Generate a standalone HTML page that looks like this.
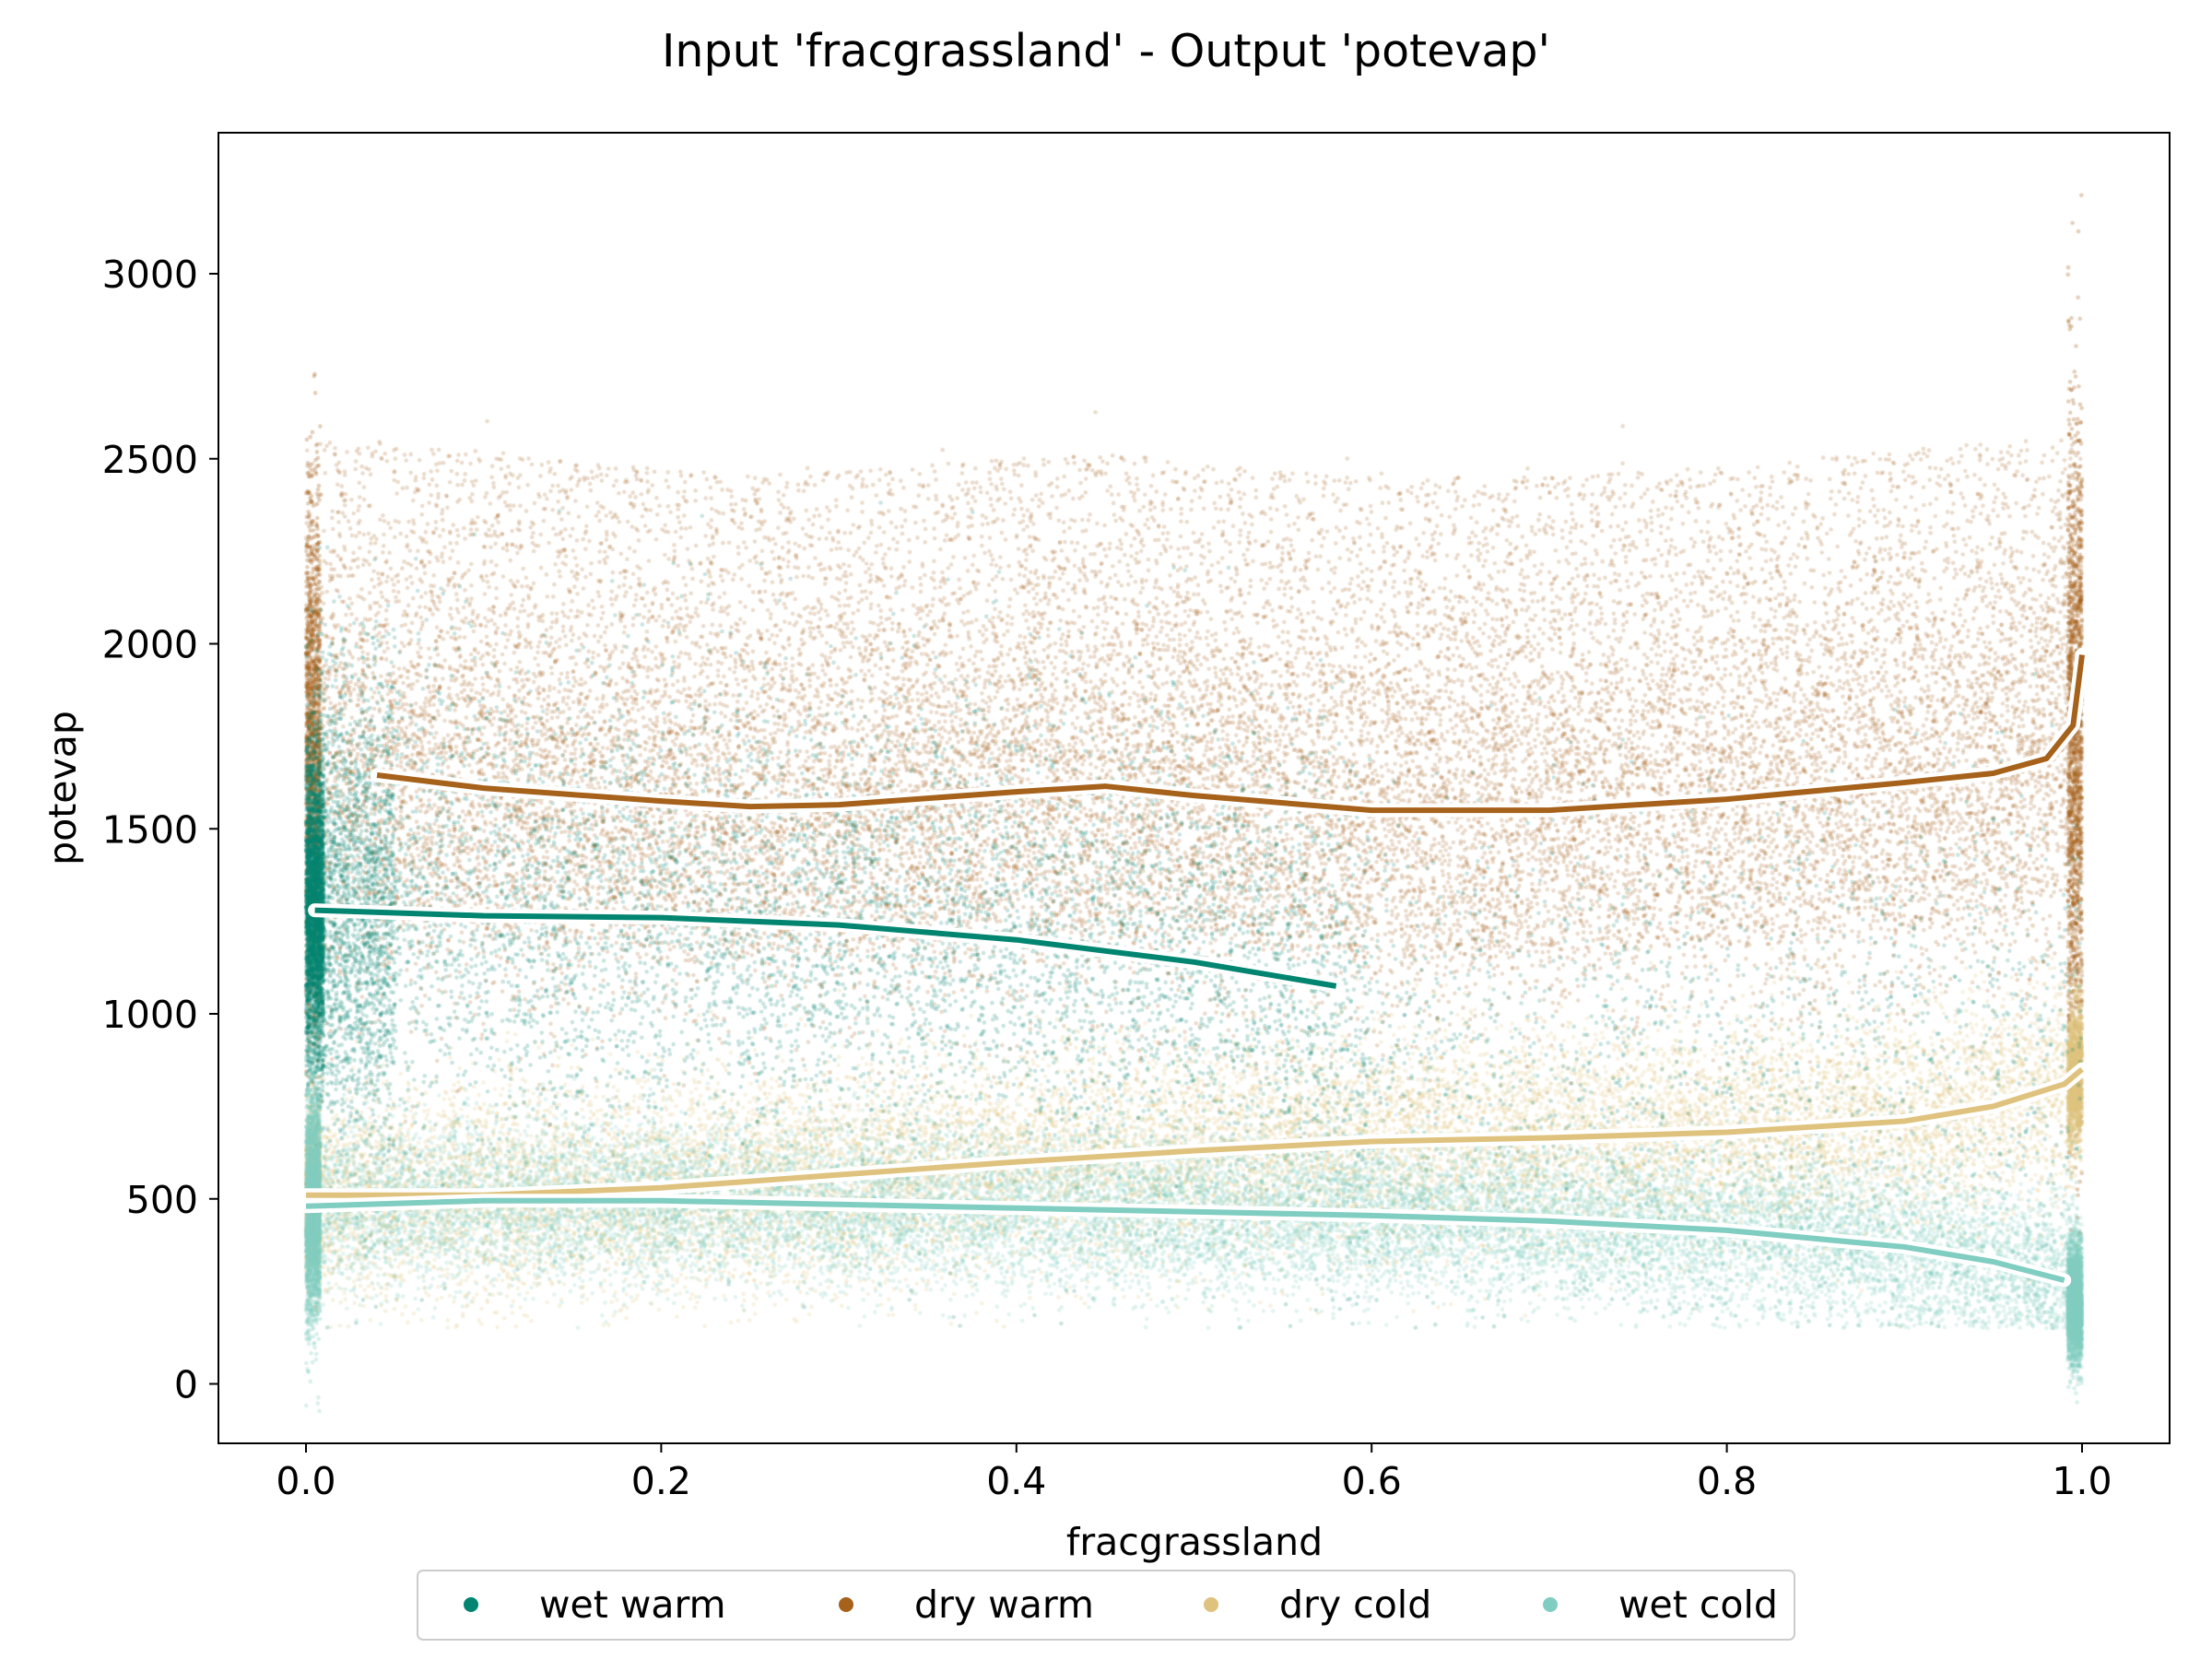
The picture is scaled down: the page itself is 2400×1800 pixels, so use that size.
<!DOCTYPE html>
<html><head><meta charset="utf-8">
<style>
html,body{margin:0;padding:0;background:#fff;}
#wrap{position:relative;width:2400px;height:1800px;font-family:"DejaVu Sans","Liberation Sans",sans-serif;}
canvas,svg{position:absolute;left:0;top:0;}
</style></head>
<body>
<div id="wrap">
<canvas id="cv" width="2400" height="1800"></canvas>
<svg id="sv" width="2400" height="1800" style="font-family:'DejaVu Sans','Liberation Sans',sans-serif"></svg>
</div>
<script>
// ---- data ----
const seriesNames = ["wet warm","dry warm","dry cold","wet cold"];
const seriesColors = ["#018571","#a6611a","#dfc27d","#80cdc1"];
const xTicks = [0.0,0.2,0.4,0.6,0.8,1.0];
const xTickLabels = ["0.0","0.2","0.4","0.6","0.8","1.0"];
const yTicks = [0,500,1000,1500,2000,2500,3000];
const yTickLabels = ["0","500","1000","1500","2000","2500","3000"];
const wetWarmX = [0.005,0.1,0.2,0.3,0.4,0.5,0.58];
const wetWarmY = [1280,1265,1260,1240,1200,1140,1075];
const dryWarmX = [0.04,0.1,0.2,0.25,0.3,0.4,0.45,0.5,0.6,0.7,0.8,0.9,0.95,0.98,0.995,1.0];
const dryWarmY = [1645,1610,1575,1560,1565,1600,1615,1590,1550,1550,1580,1625,1650,1690,1780,1970];
const dryColdX = [0.0,0.1,0.2,0.3,0.4,0.5,0.6,0.7,0.8,0.9,0.95,0.99,1.0];
const dryColdY = [510,510,530,565,600,630,655,665,680,710,750,810,850];
const wetColdX = [0.0,0.1,0.2,0.3,0.4,0.5,0.6,0.7,0.8,0.9,0.95,0.99];
const wetColdY = [480,495,495,485,475,465,455,440,415,370,330,280];
// scatter cloud spread per series (value units)
const cloudSpread = [330,380,150,110];

// ---- axes ----
const L=237,R=2354,T=144,B=1566;
const X0=332,X1=2259,Y0=1501.5,Y3000=297;
const xs=v=>X0+(X1-X0)*v;
const ys=v=>Y0+(Y3000-Y0)*v/3000;
const NS="http://www.w3.org/2000/svg";
const sv=document.getElementById('sv');
function el(t,a,p){const e=document.createElementNS(NS,t);for(const k in a)e.setAttribute(k,a[k]);(p||sv).appendChild(e);return e;}
function interp(X,Y,x){if(x<=X[0])return Y[0];for(let i=1;i<X.length;i++){if(x<=X[i]){const t=(x-X[i-1])/(X[i]-X[i-1]);return Y[i-1]+t*(Y[i]-Y[i-1]);}}return Y[Y.length-1];}

// ---- scatter cloud (seeded texture) ----
const ctx=document.getElementById('cv').getContext('2d');
let sd=987654321;
function rnd(){sd|=0;sd=sd+0x6D2B79F5|0;let t=Math.imul(sd^sd>>>15,1|sd);t=t+Math.imul(t^t>>>7,61|t)^t;return((t^t>>>14)>>>0)/4294967296;}
function gauss(){return Math.sqrt(-2*Math.log(rnd()+1e-9))*Math.cos(2*Math.PI*rnd());}
const lines=[[wetWarmX,wetWarmY],[dryWarmX,dryWarmY],[dryColdX,dryColdY],[wetColdX,wetColdY]];
const order=[1,2,0,3];
function dot(x,y,a){ctx.globalAlpha=a;ctx.beginPath();ctx.arc(xs(x),ys(y),2.3,0,Math.PI*2);ctx.fill();}
ctx.save();ctx.beginPath();ctx.rect(L,T,R-L,B-T);ctx.clip();
for(const s of order){
  ctx.fillStyle=seriesColors[s];
  const [LX,LY]=lines[s];
  const n=[10000,22000,14000,16000][s];
  for(let i=0;i<n;i++){
    let x=rnd();
    if(s===0&&rnd()<0.5)x=x*0.6;
    if(s===0&&rnd()<0.2)x=rnd()*0.05;
    const c=interp(LX,LY,Math.min(x,LX[LX.length-1]));
    let y;
    if(s===1){y=rnd()<0.55?c+gauss()*300:c-400+rnd()*1300; if(y>2550&&rnd()<0.9)y=c+gauss()*300;}
    else if(s===0){y=c+gauss()*cloudSpread[0]; if(x>0.58)y=900+gauss()*350;}
    else y=c+gauss()*cloudSpread[s];
    if(y<150)y=150+rnd()*150;
    dot(x,y,0.22);
  }
  // dense edge columns
  const ne=[2500,3000,3000,5000][s];
  for(let i=0;i<ne;i++){
    let edge;
    if(s===0)edge=rnd()*0.01;
    else edge=rnd()<0.5?rnd()*0.008:1-rnd()*0.008;
    const c=interp(LX,LY,edge);
    let y=c+gauss()*cloudSpread[s]*0.6;
    if(s===1&&edge>0.5)y=1700+gauss()*450;
    if(s===1&&edge<0.5)y=1700+gauss()*350;
    if(s===3&&edge>0.5)y=220+gauss()*80;
    if(s===3&&edge<0.5)y=480+gauss()*150;
    dot(edge,y,0.3);
  }
}
ctx.restore();

// ---- frame & ticks ----
el('rect',{x:L,y:T,width:R-L,height:B-T,fill:'none',stroke:'#000','stroke-width':2,});
xTicks.forEach((v,i)=>{
  const x=xs(v);
  const t=el('line',{x1:x,x2:x,y1:B,y2:B+10,stroke:'#000','stroke-width':2});
  
  const tx=el('text',{x:x,y:B+55,'text-anchor':'middle','font-size':41});tx.textContent=xTickLabels[i];
  
});
yTicks.forEach((v,i)=>{
  const y=ys(v);
  const t=el('line',{x1:L-10,x2:L,y1:y,y2:y,stroke:'#000','stroke-width':2});
  
  const tx=el('text',{x:L-22,y:y+15,'text-anchor':'end','font-size':41});tx.textContent=yTickLabels[i];
  
});
// ---- lines ----
lines.forEach(([LX,LY],s)=>{
  const pts=LX.map((x,i)=>xs(x)+','+ys(LY[i])).join(' ');
  const h=el('polyline',{points:pts,fill:'none',stroke:'#fff','stroke-width':15,'stroke-linejoin':'round','stroke-linecap':'round'});
  
  const p=el('polyline',{points:pts,fill:'none',stroke:seriesColors[s],'stroke-width':6,'stroke-linejoin':'round'});
  
});
</script>
<svg width="2400" height="1800" style="position:absolute;left:0;top:0;font-family:'DejaVu Sans','Liberation Sans',sans-serif">
<text x="1200" y="72" text-anchor="middle" font-size="49">Input 'fracgrassland' - Output 'potevap'</text>
<text x="1296" y="1687" text-anchor="middle" font-size="41">fracgrassland</text>
<text x="0" y="0" transform="translate(82 855) rotate(-90)" text-anchor="middle" font-size="41">potevap</text>
<g>
<rect x="453" y="1704" width="1494" height="75" rx="6" fill="#fff" stroke="#ccc" stroke-width="2"/>
<g><circle cx="511" cy="1741" r="8" fill="#018571"/><text x="585" y="1755" font-size="41">wet warm</text></g>
<g><circle cx="918" cy="1741" r="8" fill="#a6611a"/><text x="992" y="1755" font-size="41">dry warm</text></g>
<g><circle cx="1314" cy="1741" r="8" fill="#dfc27d"/><text x="1388" y="1755" font-size="41">dry cold</text></g>
<g><circle cx="1682" cy="1741" r="8" fill="#80cdc1"/><text x="1756" y="1755" font-size="41">wet cold</text></g>
</g>
</svg>
</body></html>
